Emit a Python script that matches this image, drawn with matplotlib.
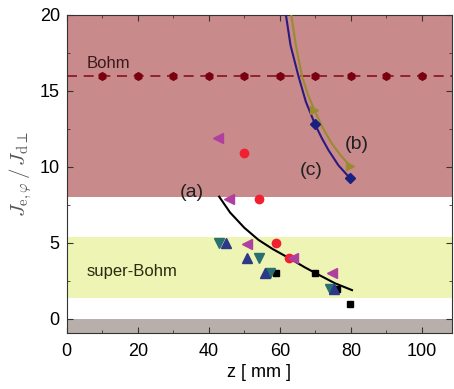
import matplotlib
matplotlib.use("Agg")
import matplotlib.pyplot as plt
from matplotlib.ticker import MultipleLocator

plt.rcParams['font.family'] = ['Liberation Sans', 'DejaVu Sans']
plt.rcParams['mathtext.fontset'] = 'cm'

# Bohm reference
bohm_z = [10, 20, 30, 40, 50, 60, 70, 80, 90, 100]
bohm_val = 16

# fitted curves
curve_a_z = [42.9, 46.0, 50.0, 54.0, 58.0, 63.0, 67.0, 71.0, 75.5, 80.3]
curve_a_y = [8.05, 7.0, 6.0, 5.2, 4.6, 3.95, 3.4, 2.9, 2.35, 1.9]
curve_b_z = [63.2, 64.5, 66.2, 68.0, 69.7, 72.0, 74.6, 77.0, 79.8]
curve_b_y = [20.0, 18.0, 16.0, 14.7, 13.75, 12.6, 11.55, 10.8, 10.05]
curve_c_z = [61.7, 63.0, 65.2, 67.3, 69.9, 71.8, 73.7, 76.5, 79.8]
curve_c_y = [20.0, 18.0, 16.0, 14.3, 12.8, 11.9, 11.1, 10.1, 9.25]

# curve markers
b_mark_z = [69.7, 79.8]
b_mark_y = [13.75, 10.05]
c_mark_z = [69.9, 79.8]
c_mark_y = [12.8, 9.25]

# measured data
sq_z = [58.9, 69.8, 76.2, 79.8]
sq_y = [3.05, 3.0, 1.95, 1.0]
circ_z = [50.0, 54.0, 58.9, 62.6]
circ_y = [10.95, 7.9, 5.0, 4.0]
ltri_z = [42.7, 45.8, 50.7, 63.8, 74.6]
ltri_y = [11.9, 7.9, 4.95, 4.0, 3.0]
utri_z = [44.8, 50.7, 55.9, 75.1]
utri_y = [5.0, 4.0, 3.05, 1.95]
dtri_z = [43.0, 54.0, 57.3, 74.0]
dtri_y = [5.0, 4.0, 3.05, 1.95]

fig = plt.figure(figsize=(4.54, 3.89), dpi=100)
ax = fig.add_axes([0.147, 0.144, 0.849, 0.8175])
ax.set_xlim(0, 108.5)
ax.set_ylim(-0.92, 20)

# regions
ax.axhspan(8, 20, color='#c98a8c', zorder=0, lw=0)
ax.axhspan(1.4, 5.4, color='#eef5b4', zorder=0, lw=0)
ax.axhspan(-0.92, 0, color='#b9afaa', zorder=0, lw=0)

ax.axhline(bohm_val, color='#8b1020', ls=(0, (6, 4)), lw=1.2, zorder=1)
ax.plot(bohm_z, [bohm_val] * len(bohm_z), ls='none', marker='h', ms=5.5,
        color='#7a0010', zorder=2)

ax.plot(curve_a_z, curve_a_y, color='black', lw=1.5, zorder=3)
ax.plot(curve_b_z, curve_b_y, color='#9a8a30', lw=1.5, zorder=3)
ax.plot(curve_c_z, curve_c_y, color='#2a1a80', lw=1.5, zorder=3)
ax.plot(b_mark_z, b_mark_y, ls='none', marker='>', ms=6, color='#9a8a30', zorder=4)
ax.plot(c_mark_z, c_mark_y, ls='none', marker='D', ms=5, color='#1a2080', zorder=4)

ax.plot(sq_z, sq_y, ls='none', marker='s', ms=5, color='black', zorder=5)
ax.plot(circ_z, circ_y, ls='none', marker='o', ms=6, color='#f02030', zorder=5)
ax.plot(ltri_z, ltri_y, ls='none', marker='<', ms=7, color='#b040a0', zorder=6)
ax.plot(dtri_z, dtri_y, ls='none', marker='v', ms=7, color='#2a7070', zorder=5)
ax.plot(utri_z, utri_y, ls='none', marker='^', ms=7, color='#2a3a88', zorder=5)

ax.text(5.5, 16.5, 'Bohm', fontsize=12, color='#3a1a1a')
ax.text(5.5, 3.1, 'super-Bohm', fontsize=12, color='#2a2a10', va='center')
ax.text(35.3, 8.35, '(a)', fontsize=14, color='#202020', ha='center', va='center')
ax.text(81.7, 11.45, '(b)', fontsize=14, color='#202020', ha='center', va='center')
ax.text(68.8, 9.75, '(c)', fontsize=14, color='#202020', ha='center', va='center')

ax.xaxis.set_major_locator(MultipleLocator(20))
ax.xaxis.set_minor_locator(MultipleLocator(10))
ax.yaxis.set_major_locator(MultipleLocator(5))
ax.yaxis.set_minor_locator(MultipleLocator(2.5))
ax.tick_params(which='both', direction='in', top=True, right=True, labelsize=13,
               color='#333333')
ax.tick_params(which='major', length=4)
ax.tick_params(which='minor', length=2)
ax.tick_params(axis='x', pad=7)
ax.tick_params(axis='y', pad=5)
for s in ax.spines.values():
    s.set_color('#333333')

ax.set_xlabel('z [ mm ]', fontsize=13, labelpad=3)
ax.set_ylabel(r'$J_{\mathrm{e},\varphi}\,/\,J_{\mathrm{d}\perp}$', fontsize=15, color='#555555', labelpad=4)

fig.savefig('out.png', dpi=100)
